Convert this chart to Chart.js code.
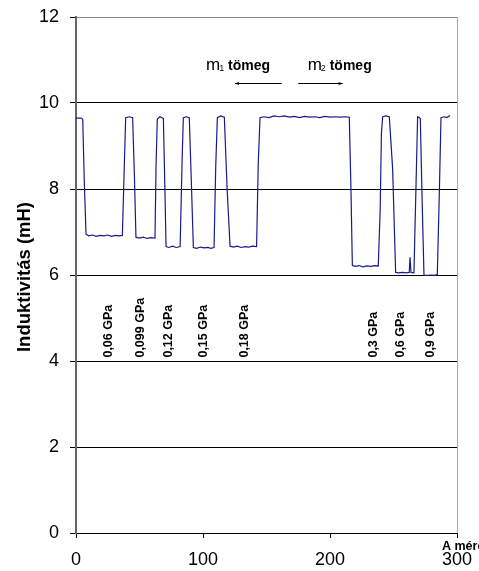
<!DOCTYPE html>
<html>
<head>
<meta charset="utf-8">
<script src="https://cdn.jsdelivr.net/npm/chart.js@4/dist/chart.umd.min.js"></script>
<style>
  body { margin: 0; background: #fff; }
  canvas { display: block; }
</style>
</head>
<body>
<canvas id="chart" width="479" height="571"></canvas>
<script>
// mérési pontok (a mérés sorszáma, induktivitás mH)
const xVals = [
  0, 4, 5.3, 6.5, 7.9, 10, 13, 16, 19, 22, 25, 28, 31, 34, 36.5, 38, 39.1, 42, 44.6, 46,
  47.2, 50, 53, 56, 59, 62.2, 63, 64, 66, 68.8, 70, 70.9, 73, 76, 79, 82, 83.5, 84.5, 87, 89.2,
  91, 92.4, 95, 98, 101, 104, 106, 108.7, 110, 111.3, 114, 116.8, 119, 121.3, 124, 127, 130, 133, 136, 139,
  142.2, 143.5, 144.9, 148, 152, 156, 160, 164, 168, 172, 176, 180, 184, 188, 192, 196, 200, 204, 208, 212,
  215.2, 216.5, 217.6, 220, 223, 226, 229, 232, 235, 238, 239.5, 240.5, 241.5, 244, 246.7, 249.3, 251.7, 254, 257, 260,
  262.4, 263, 263.8, 266.1, 267.5, 269, 270, 271.1, 272.5, 274, 277, 280, 282, 284.5, 286, 287.4, 290, 292, 294.5
];
const yVals = [
  9.65, 9.65, 9.62, 8.2, 6.95, 6.91, 6.93, 6.90, 6.92, 6.91, 6.93, 6.90, 6.92, 6.91, 6.92, 8.5, 9.66, 9.68, 9.66, 8.3,
  6.88, 6.86, 6.88, 6.85, 6.87, 6.86, 8.5, 9.62, 9.68, 9.64, 8.0, 6.66, 6.64, 6.67, 6.64, 6.66, 8.6, 9.66, 9.68, 9.66,
  8.0, 6.64, 6.62, 6.65, 6.63, 6.64, 6.62, 6.64, 8.5, 9.66, 9.70, 9.67, 8.0, 6.67, 6.65, 6.67, 6.64, 6.66, 6.65, 6.67,
  6.66, 8.6, 9.66, 9.68, 9.66, 9.70, 9.68, 9.70, 9.67, 9.69, 9.66, 9.69, 9.67, 9.68, 9.66, 9.69, 9.67, 9.68, 9.67, 9.68,
  9.67, 8.0, 6.22, 6.20, 6.22, 6.19, 6.21, 6.20, 6.22, 6.21, 7.5, 9.3, 9.68, 9.70, 9.68, 8.48, 6.06, 6.05, 6.06, 6.05,
  6.06, 6.41, 6.06, 6.05, 7.8, 9.68, 9.67, 9.64, 7.8, 6.0, 5.99, 6.00, 5.99, 6.01, 7.8, 9.66, 9.68, 9.66, 9.71
];

// nyomás feliratok
const pressLabels = ["0,06 GPa", "0,099 GPa", "0,12 GPa", "0,15 GPa", "0,18 GPa", "0,3 GPa", "0,6 GPa", "0,9 GPa"];
const pressX = [25.4, 51.2, 72.7, 100.2, 132.5, 234.1, 255.7, 279.3];
const pressY = 4.08;

const yTicks = [0, 2, 4, 6, 8, 10, 12];
const xTicks = [0, 100, 200, 300];

const points = xVals.map((x, i) => ({ x: x, y: yVals[i] }));

const FONT = "Arial, 'Liberation Sans', sans-serif";

// feliratok és nyilak
const annotations = {
  id: "annotations",
  afterDraw(chart) {
    const ctx = chart.ctx;
    const xs = chart.scales.x;
    const ys = chart.scales.y;
    ctx.save();
    ctx.fillStyle = "#000";

    // nyomás feliratok függőlegesen
    ctx.font = "bold 12.5px " + FONT;
    ctx.textAlign = "left";
    ctx.textBaseline = "middle";
    pressLabels.forEach((t, i) => {
      ctx.save();
      ctx.translate(xs.getPixelForValue(pressX[i]), ys.getPixelForValue(pressY));
      ctx.rotate(-Math.PI / 2);
      ctx.fillText(t, 0, 0);
      ctx.restore();
    });

    // tömeg feliratok
    ctx.textBaseline = "alphabetic";
    const drawMass = (x, sub) => {
      ctx.font = "17px " + FONT;
      ctx.fillText("m", x, 70);
      const w = ctx.measureText("m").width;
      ctx.font = "9px " + FONT;
      ctx.fillText(sub, x + w - 1, 71);
      const w2 = ctx.measureText(sub).width;
      ctx.font = "bold 14px " + FONT;
      ctx.fillText(" tömeg", x + w - 1 + w2, 70);
    };
    drawMass(xs.getPixelForValue(102.4), "1");
    drawMass(xs.getPixelForValue(182.4), "2");

    // nyilak
    ctx.strokeStyle = "#000";
    ctx.lineWidth = 1;
    const arrow = (x1, x2, y) => {
      ctx.beginPath();
      ctx.moveTo(x1, y);
      ctx.lineTo(x2, y);
      ctx.stroke();
      const d = x2 > x1 ? -1 : 1;
      ctx.beginPath();
      ctx.moveTo(x2, y);
      ctx.lineTo(x2 + d * 4, y - 1.5);
      ctx.lineTo(x2 + d * 4, y + 1.5);
      ctx.closePath();
      ctx.fill();
    };
    arrow(xs.getPixelForValue(162), xs.getPixelForValue(125.2), 83.5);
    arrow(xs.getPixelForValue(175), xs.getPixelForValue(210), 83.5);

    // tengelyfeliratok
    ctx.font = "bold 18.5px " + FONT;
    ctx.textAlign = "center";
    ctx.textBaseline = "middle";
    ctx.save();
    ctx.translate(25, 277);
    ctx.rotate(-Math.PI / 2);
    ctx.fillText("Induktivitás (mH)", 0, 0);
    ctx.restore();

    ctx.font = "bold 12.5px " + FONT;
    ctx.textAlign = "left";
    ctx.fillText("A mérések száma", 442, 547);
    ctx.restore();
  },
};

const noPad = (s) => {
  s.paddingTop = 0;
  s.paddingBottom = 0;
  s.paddingLeft = 0;
  s.paddingRight = 0;
};

const ctx = document.getElementById("chart").getContext("2d");
new Chart(ctx, {
  type: "scatter",
  data: {
    datasets: [
      {
        data: points,
        showLine: true,
        borderColor: "#1a1a8a",
        borderWidth: 1.2,
        pointRadius: 0,
        tension: 0,
      },
    ],
  },
  options: {
    responsive: false,
    animation: false,
    layout: { padding: { left: 0, top: 17, right: 22, bottom: 0 } },
    plugins: {
      legend: { display: false },
      tooltip: { enabled: false },
    },
    scales: {
      x: {
        type: "linear",
        min: 0,
        max: 300,
        afterBuildTicks: (s) => { s.ticks = xTicks.map((v) => ({ value: v })); },
        afterFit: (s) => { s.height = 38; noPad(s); },
        grid: {
          color: (c) => (c.tick && c.tick.value === 300 ? "#aaa" : "rgba(0,0,0,0)"),
          tickColor: "#000",
          tickLength: 5,
        },
        border: { color: "#000", width: 1 },
        ticks: {
          color: "#000",
          font: { size: 18, family: FONT },
          padding: 11,
          maxRotation: 0,
        },
      },
      y: {
        min: 0,
        max: 12,
        afterBuildTicks: (s) => { s.ticks = yTicks.map((v) => ({ value: v })); },
        afterFit: (s) => { s.width = 76; noPad(s); },
        grid: {
          color: (c) => (c.tick && c.tick.value === 12 ? "#888" : "#000"),
          tickColor: "#000",
          tickLength: 6,
        },
        border: { color: "#666", width: 2 },
        ticks: {
          color: "#000",
          font: { size: 18, family: FONT },
          padding: 11,
        },
      },
    },
  },
  plugins: [annotations],
});
</script>
</body>
</html>
